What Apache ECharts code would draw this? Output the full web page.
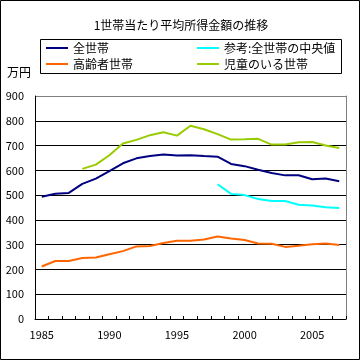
<!DOCTYPE html>
<html>
<head>
<meta charset="utf-8">
<script src="https://cdn.jsdelivr.net/npm/echarts@6/dist/echarts.min.js"></script>
<style>
html,body{margin:0;padding:0;background:#fff;}
#chart{width:362px;height:362px;}
</style>
</head>
<body>
<div id="chart"></div>
<script>
var years = ['1985','1986','1987','1988','1989','1990','1991','1992','1993','1994','1995','1996','1997','1998','1999','2000','2001','2002','2003','2004','2005','2006','2007'];
var allHouseholds = [493.3, 505.6, 509.0, 545.4, 566.7, 596.6, 628.5, 648.5, 657.5, 664.2, 659.6, 661.2, 657.7, 655.2, 626.0, 616.9, 602.0, 589.3, 579.7, 580.4, 563.8, 566.8, 556.2];
var medianAll = [null, null, null, null, null, null, null, null, null, null, null, null, null, 544, 505, 500, 484, 476, 476, 461, 458, 451, 448];
var elderly = [212, 234, 234, 246, 248, 261, 274, 293, 295, 307, 316, 316, 321, 333, 325, 319, 305, 304, 291, 296, 302, 305, 299];
var children = [null, null, null, 606, 623, 661, 708, 723, 742, 754, 740, 780, 766, 746, 724, 725, 727, 704, 704, 713, 714, 700, 690];
var seriesNames = ['全世帯', '参考:全世帯の中央値', '高齢者世帯', '児童のいる世帯'];
var yTicks = {min: 0, max: 900, interval: 100};

var FONT = "'Noto Sans CJK JP', sans-serif";
var chart = echarts.init(document.getElementById('chart'), null, {renderer: 'canvas'});
var gridColors = [];
for (var i = 0; i < 9; i++) gridColors.push('#000');
gridColors.push('#808080');

function mk(name, data, color) {
  return {
    name: name, type: 'line', data: data, symbol: 'none', connectNulls: false,
    lineStyle: {color: color, width: 2}, itemStyle: {color: color},
    animation: false, z: 3
  };
}

var legendText = {fontSize: 12, color: '#000', fontFamily: FONT, lineHeight: 14};

chart.setOption({
  backgroundColor: '#fff',
  animation: false,
  textStyle: {fontFamily: FONT, color: '#000'},
  title: {
    text: '1世帯当たり平均所得金額の推移', left: 'center', top: 14,
    textStyle: {fontSize: 12, fontWeight: 'normal', color: '#000', fontFamily: FONT}
  },
  legend: [{
    orient: 'vertical', left: 46, top: 41, itemGap: 2, padding: 0,
    itemWidth: 22, itemHeight: 2, icon: 'rect',
    data: [seriesNames[0], seriesNames[2]],
    textStyle: legendText
  }, {
    orient: 'vertical', left: 197, top: 41, itemGap: 2, padding: 0,
    itemWidth: 22, itemHeight: 2, icon: 'rect',
    data: [seriesNames[1], seriesNames[3]],
    textStyle: legendText
  }],
  grid: {left: 35, right: 16, top: 96, bottom: 43, containLabel: false},
  xAxis: {
    type: 'category', data: years, boundaryGap: true,
    axisLine: {lineStyle: {color: '#000', width: 1}},
    axisTick: {show: true, inside: true, length: 3, interval: 0, alignWithLabel: false, lineStyle: {color: '#000'}},
    axisLabel: {interval: 4, fontSize: 11, color: '#000', margin: 10, fontFamily: FONT},
    splitLine: {show: false}
  },
  yAxis: [{
    type: 'value', min: yTicks.min, max: yTicks.max, interval: yTicks.interval,
    axisLine: {show: true, lineStyle: {color: '#000', width: 1}},
    axisTick: {show: false},
    axisLabel: {fontSize: 11, color: '#000', margin: 11, fontFamily: FONT},
    splitLine: {show: true, lineStyle: {color: gridColors, width: 1}}
  }, {
    type: 'value', position: 'right', min: yTicks.min, max: yTicks.max, interval: yTicks.interval,
    axisLine: {show: true, lineStyle: {color: '#808080', width: 1}},
    axisTick: {show: false}, axisLabel: {show: false}, splitLine: {show: false}
  }],
  graphic: [
    {type: 'rect', shape: {x: 0.5, y: 0.5, width: 359, height: 359}, style: {fill: null, stroke: '#000', lineWidth: 1}, silent: true},
    {type: 'rect', shape: {x: 40.5, y: 39.5, width: 301, height: 34}, style: {fill: null, stroke: '#000', lineWidth: 1}, silent: true},
    {type: 'text', left: 7, top: 66, style: {text: '万円', font: '12px ' + FONT, fill: '#000'}, silent: true}
  ],
  series: [
    mk(seriesNames[0], allHouseholds, '#000080'),
    mk(seriesNames[1], medianAll, '#00FFFF'),
    mk(seriesNames[2], elderly, '#FF6600'),
    mk(seriesNames[3], children, '#99CC00')
  ]
});
</script>
</body>
</html>
